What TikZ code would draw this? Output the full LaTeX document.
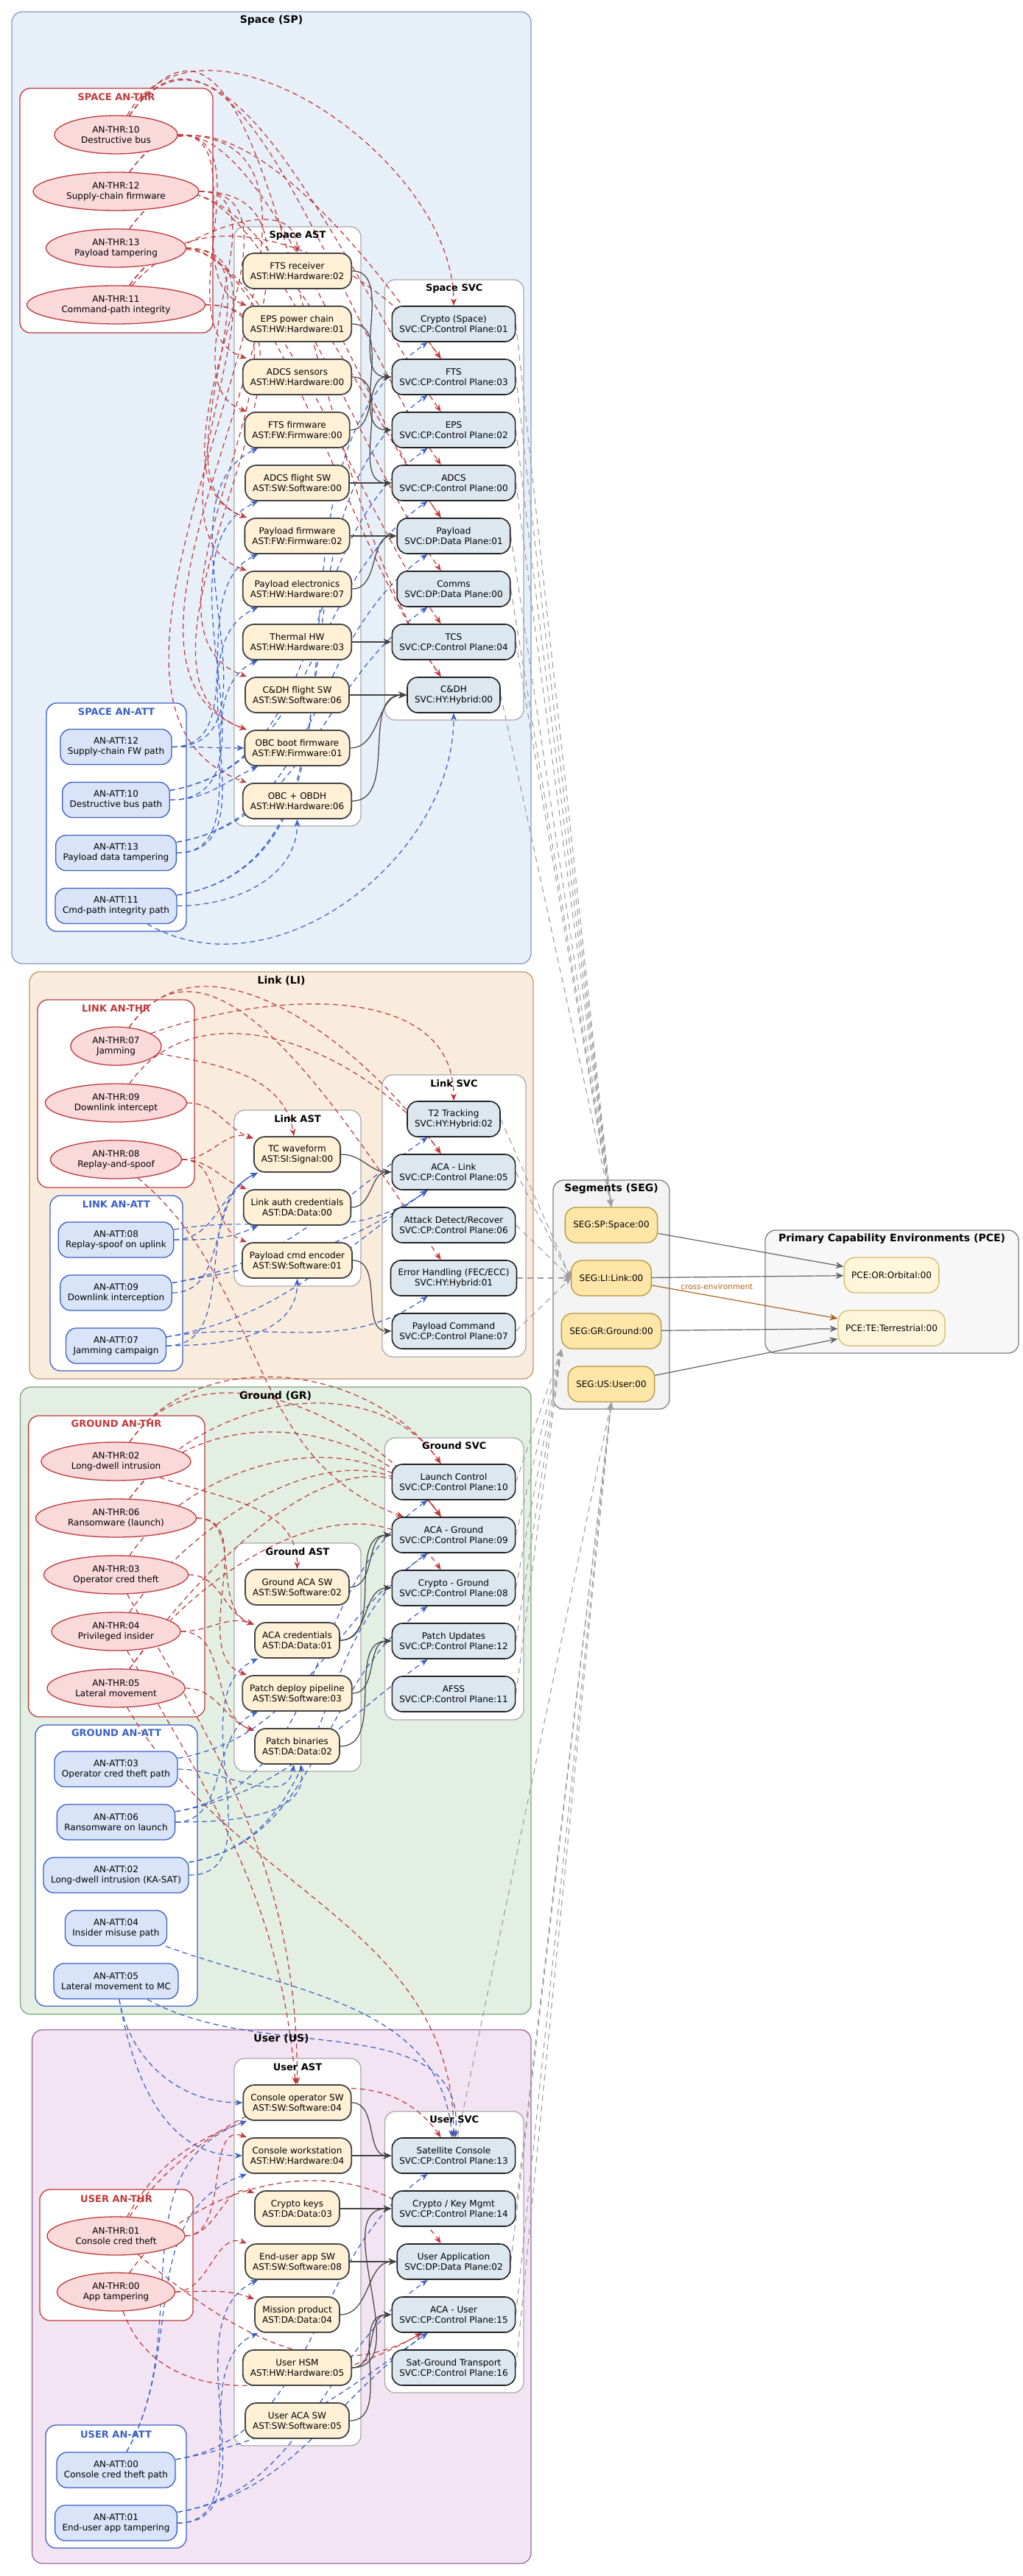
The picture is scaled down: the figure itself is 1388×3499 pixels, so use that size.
\documentclass[tikz,border=0pt]{standalone}
\usepackage{fontspec}
\setmainfont{DejaVu Sans}
\usetikzlibrary{shapes.geometric,arrows.meta}

\definecolor{spfill}{HTML}{E7EFF9}\definecolor{spline}{HTML}{7F9DCB}
\definecolor{lifill}{HTML}{FAECDD}\definecolor{liline}{HTML}{BF9A6B}
\definecolor{grfill}{HTML}{E3EFE2}\definecolor{grline}{HTML}{7EA77B}
\definecolor{usfill}{HTML}{F2E4F2}\definecolor{usline}{HTML}{9C6C9F}
\definecolor{thrline}{HTML}{C0393B}\definecolor{thrfill}{HTML}{F9D9DA}
\definecolor{attline}{HTML}{3A5FC8}\definecolor{attfill}{HTML}{D9E4F8}
\definecolor{astline}{HTML}{444444}\definecolor{astfill}{HTML}{FFF0D6}
\definecolor{svcline}{HTML}{222222}\definecolor{svcfill}{HTML}{DCE7F0}
\definecolor{segline}{HTML}{B8943E}\definecolor{segfill}{HTML}{FEE6A8}
\definecolor{pceline}{HTML}{D4BA6A}\definecolor{pcefill}{HTML}{FFF6DC}
\definecolor{paneline}{HTML}{AAAAAA}\definecolor{segzone}{HTML}{F3F3F3}
\definecolor{crossenv}{HTML}{B0651A}

\pgfdeclarelayer{zones}
\pgfdeclarelayer{wires}
\pgfsetlayers{zones,wires,main}

\begin{document}
\begin{tikzpicture}[x=0.5pt,y=0.5pt,node distance=36pt,font=\fontsize{6}{7}\selectfont,
    thr/.style={ellipse, draw=thrline, fill=thrfill, line width=0.65pt, inner sep=0pt, minimum height=26pt, align=center},
    att/.style={rectangle, rounded corners=7pt, draw=attline, fill=attfill, line width=0.65pt, minimum height=24pt, inner xsep=5pt, align=center},
    ast/.style={rectangle, rounded corners=7.5pt, draw=astline, fill=astfill, line width=0.9pt, minimum height=24pt, inner xsep=5pt, align=center},
    svc/.style={rectangle, rounded corners=7pt, draw=svcline, fill=svcfill, line width=0.8pt, minimum height=24pt, inner xsep=5pt, align=center},
    segbox/.style={rectangle, rounded corners=7.5pt, draw=segline, fill=segfill, line width=0.65pt, minimum height=24pt, inner xsep=5.5pt},
    pcebox/.style={rectangle, rounded corners=7.5pt, draw=pceline, fill=pcefill, line width=0.65pt, minimum height=24pt, inner xsep=5pt},
    zone/.style={rounded corners=7pt, line width=0.65pt},
    pane/.style={zone, fill=white},
    ztitle/.style={font=\fontsize{7}{8}\selectfont\bfseries},
    ptitle/.style={font=\fontsize{6.5}{7.5}\selectfont\bfseries},
    thrarc/.style={color=thrline, line width=0.6pt, dash pattern=on 3.5pt off 2.5pt, -{Stealth[length=5pt,width=4pt]}},
    attarc/.style={color=attline, line width=0.6pt, dash pattern=on 3.5pt off 2.5pt, -{Stealth[length=5pt,width=4pt]}},
    hosts/.style={color=astline, line width=0.6pt, -{Stealth[length=5.5pt,width=4.5pt]}},
    segarc/.style={color=black!38, line width=0.55pt, dash pattern=on 4pt off 3pt, -{Stealth[length=5pt,width=4pt]}},
    pcearc/.style={color=black!60, line width=0.6pt, -{Stealth[length=5.5pt,width=4.5pt]}}]

\useasboundingbox (0,0) rectangle (1388,-3499);

\begin{pgfonlayer}{zones}
  \fill[white] (0,0) rectangle (1388,-3499);
  % segments
  \draw[zone, draw=spline, fill=spfill] (16,-16) rectangle (721,-1309);
  \draw[zone, draw=liline, fill=lifill] (40,-1320) rectangle (724,-1873);
  \draw[zone, draw=grline, fill=grfill] (27.5,-1884) rectangle (721,-2736);
  \draw[zone, draw=usline, fill=usfill] (43.6,-2757) rectangle (721,-3482);
  \draw[zone, draw=black!50, fill=segzone] (751,-1603) rectangle (909,-1914);
  \draw[zone, draw=black!50, fill=black!3] (1039,-1671) rectangle (1383,-1838);
  % inner panes
  \draw[pane, draw=thrline] (27,-120) rectangle (289,-452);
  \draw[pane, draw=paneline] (318,-308) rectangle (490,-1122);
  \draw[pane, draw=paneline] (522.5,-380) rectangle (711,-978);
  \draw[pane, draw=attline] (63,-955) rectangle (253,-1265);
  \draw[pane, draw=thrline] (51,-1358) rectangle (264,-1613);
  \draw[pane, draw=attline] (68,-1624) rectangle (248,-1862);
  \draw[pane, draw=paneline] (318,-1508) rectangle (490,-1747);
  \draw[pane, draw=paneline] (519,-1460) rectangle (714,-1843);
  \draw[pane, draw=thrline] (38.6,-1923) rectangle (278,-2332);
  \draw[pane, draw=paneline] (318,-2096) rectangle (490,-2406);
  \draw[pane, draw=paneline] (522.5,-1953) rectangle (711,-2336);
  \draw[pane, draw=attline] (48,-2343) rectangle (268,-2725);
  \draw[pane, draw=paneline] (318,-2796) rectangle (490,-3322);
  \draw[pane, draw=paneline] (522.5,-2868) rectangle (711,-3250);
  \draw[pane, draw=thrline] (54,-2974) rectangle (262,-3152);
  \draw[pane, draw=attline] (62,-3294) rectangle (253,-3461);
\end{pgfonlayer}

% titles
\node[ztitle] (spT) at (368.5,-28) {Space (SP)};
\node[ztitle] (liT) at (382,-1332) {Link (LI)};
\node[ztitle] (grT) at (374,-1896) {Ground (GR)};
\node[ztitle] (usT) at (382,-2769) {User (US)};
\node[ztitle] (segT) at (830,-1615) {Segments (SEG)};
\node[ztitle] (pceT) at (1211,-1683) {Primary Capability Environments (PCE)};
\node[ptitle, text=thrline] (spThrT) at (158,-132) {SPACE AN-THR};
\node[ptitle] (spAstT) at (404,-320) {Space AST};
\node[ptitle] (spSvcT) at (616.75,-392) {Space SVC};
\node[ptitle, text=attline] (spAttT) at (158,-967) {SPACE AN-ATT};
\node[ptitle, text=thrline] (liThrT) at (157.5,-1370) {LINK AN-THR};
\node[ptitle, text=attline] (liAttT) at (158,-1636) {LINK AN-ATT};
\node[ptitle] (liAstT) at (404,-1520) {Link AST};
\node[ptitle] (liSvcT) at (616.5,-1472) {Link SVC};
\node[ptitle, text=thrline] (grThrT) at (158,-1934) {GROUND AN-THR};
\node[ptitle] (grAstT) at (404,-2108) {Ground AST};
\node[ptitle] (grSvcT) at (616.75,-1964) {Ground SVC};
\node[ptitle, text=attline] (grAttT) at (158,-2354) {GROUND AN-ATT};
\node[ptitle, text=thrline] (usThrT) at (158,-2987) {USER AN-THR};
\node[ptitle] (usAstT) at (404,-2808) {User AST};
\node[ptitle] (usSvcT) at (616.75,-2879) {User SVC};
\node[ptitle, text=attline] (usAttT) at (157.5,-3307) {USER AN-ATT};

% Space
\node[thr, minimum width=83.5pt] (thr10) at (157.5,-183) {AN-THR:10\\Destructive bus};
\node[thr, minimum width=112.5pt] (thr12) [node distance=38.5pt, below of=thr10] {AN-THR:12\\Supply-chain firmware};
\node[thr, minimum width=95pt] (thr13) [node distance=38.5pt, below of=thr12] {AN-THR:13\\Payload tampering};
\node[thr, minimum width=121pt] (thr11) [node distance=38.5pt, below of=thr13] {AN-THR:11\\Command-path integrity};

\node[att] (att12) at (157.5,-1014.5) {AN-ATT:12\\Supply-chain FW path};
\node[att] (att10) [below of=att12] {AN-ATT:10\\Destructive bus path};
\node[att] (att13) [below of=att10] {AN-ATT:13\\Payload data tampering};
\node[att] (att11) [below of=att13] {AN-ATT:11\\Cmd-path integrity path};

\node[ast] (astFTSrx) at (403.5,-368) {FTS receiver\\AST:HW:Hardware:02};
\node[ast] (astEPS) [below of=astFTSrx] {EPS power chain\\AST:HW:Hardware:01};
\node[ast] (astADCSs) [below of=astEPS] {ADCS sensors\\AST:HW:Hardware:00};
\node[ast] (astFTSfw) [below of=astADCSs] {FTS firmware\\AST:FW:Firmware:00};
\node[ast] (astADCSsw) [below of=astFTSfw] {ADCS flight SW\\AST:SW:Software:00};
\node[ast] (astPLfw) [below of=astADCSsw] {Payload firmware\\AST:FW:Firmware:02};
\node[ast] (astPLel) [below of=astPLfw] {Payload electronics\\AST:HW:Hardware:07};
\node[ast] (astTherm) [below of=astPLel] {Thermal HW\\AST:HW:Hardware:03};
\node[ast] (astCDHsw) [below of=astTherm] {C\&DH flight SW\\AST:SW:Software:06};
\node[ast] (astOBCfw) [below of=astCDHsw] {OBC boot firmware\\AST:FW:Firmware:01};
\node[ast] (astOBC) [below of=astOBCfw] {OBC + OBDH\\AST:HW:Hardware:06};

\node[svc] (svcCrypto) at (616,-440) {Crypto (Space)\\SVC:CP:Control Plane:01};
\node[svc] (svcFTS) [below of=svcCrypto] {FTS\\SVC:CP:Control Plane:03};
\node[svc] (svcEPS) [below of=svcFTS] {EPS\\SVC:CP:Control Plane:02};
\node[svc] (svcADCS) [below of=svcEPS] {ADCS\\SVC:CP:Control Plane:00};
\node[svc] (svcPL) [below of=svcADCS] {Payload\\SVC:DP:Data Plane:01};
\node[svc] (svcComms) [below of=svcPL] {Comms\\SVC:DP:Data Plane:00};
\node[svc] (svcTCS) [below of=svcComms] {TCS\\SVC:CP:Control Plane:04};
\node[svc] (svcCDH) [below of=svcTCS] {C\&DH\\SVC:HY:Hybrid:00};

% Link
\node[thr, minimum width=61.5pt] (thr07) at (157.5,-1421) {AN-THR:07\\Jamming};
\node[thr, minimum width=96pt] (thr09) [node distance=38.5pt, below of=thr07] {AN-THR:09\\Downlink intercept};
\node[thr, minimum width=89pt] (thr08) [node distance=38.5pt, below of=thr09] {AN-THR:08\\Replay-and-spoof};

\node[att] (att08) at (157.5,-1684) {AN-ATT:08\\Replay-spoof on uplink};
\node[att] (att09) [below of=att08] {AN-ATT:09\\Downlink interception};
\node[att] (att07) [below of=att09] {AN-ATT:07\\Jamming campaign};

\node[ast] (astTCW) at (403.5,-1568) {TC waveform\\AST:SI:Signal:00};
\node[ast] (astAuth) [below of=astTCW] {Link auth credentials\\AST:DA:Data:00};
\node[ast] (astPcmd) [below of=astAuth] {Payload cmd encoder\\AST:SW:Software:01};

\node[svc] (svcT2) at (616,-1520) {T2 Tracking\\SVC:HY:Hybrid:02};
\node[svc] (svcACAl) [below of=svcT2] {ACA - Link\\SVC:CP:Control Plane:05};
\node[svc] (svcADR) [below of=svcACAl] {Attack Detect/Recover\\SVC:CP:Control Plane:06};
\node[svc] (svcErr) [below of=svcADR] {Error Handling (FEC/ECC)\\SVC:HY:Hybrid:01};
\node[svc] (svcPcmd) [below of=svcErr] {Payload Command\\SVC:CP:Control Plane:07};

% Ground
\node[thr, minimum width=101.5pt] (thr02) at (157.5,-1985) {AN-THR:02\\Long-dwell intrusion};
\node[thr, minimum width=109pt] (thr06) [node distance=38.5pt, below of=thr02] {AN-THR:06\\Ransomware (launch)};
\node[thr, minimum width=98pt] (thr03) [node distance=38.5pt, below of=thr06] {AN-THR:03\\Operator cred theft};
\node[thr, minimum width=87.5pt] (thr04) [node distance=38.5pt, below of=thr03] {AN-THR:04\\Privileged insider};
\node[thr, minimum width=93.5pt] (thr05) [node distance=38.5pt, below of=thr04] {AN-THR:05\\Lateral movement};

\node[att] (att03) at (157.5,-2403) {AN-ATT:03\\Operator cred theft path};
\node[att] (att06) [below of=att03] {AN-ATT:06\\Ransomware on launch};
\node[att] (att02) [below of=att06] {AN-ATT:02\\Long-dwell intrusion (KA-SAT)};
\node[att] (att04) [below of=att02] {AN-ATT:04\\Insider misuse path};
\node[att] (att05) [below of=att04] {AN-ATT:05\\Lateral movement to MC};

\node[ast] (astGACA) at (403.5,-2156) {Ground ACA SW\\AST:SW:Software:02};
\node[ast] (astACAcr) [below of=astGACA] {ACA credentials\\AST:DA:Data:01};
\node[ast] (astPdep) [below of=astACAcr] {Patch deploy pipeline\\AST:SW:Software:03};
\node[ast] (astPbin) [below of=astPdep] {Patch binaries\\AST:DA:Data:02};

\node[svc] (svcLaunch) at (616,-2013) {Launch Control\\SVC:CP:Control Plane:10};
\node[svc] (svcACAg) [below of=svcLaunch] {ACA - Ground\\SVC:CP:Control Plane:09};
\node[svc] (svcCryG) [below of=svcACAg] {Crypto - Ground\\SVC:CP:Control Plane:08};
\node[svc] (svcPatch) [below of=svcCryG] {Patch Updates\\SVC:CP:Control Plane:12};
\node[svc] (svcAFSS) [below of=svcPatch] {AFSS\\SVC:CP:Control Plane:11};

% User
\node[thr, minimum width=93.5pt] (thr01) at (157.5,-3037) {AN-THR:01\\Console cred theft};
\node[thr, minimum width=80pt] (thr00) [node distance=38pt, below of=thr01] {AN-THR:00\\App tampering};

\node[att] (att00) at (157.5,-3355) {AN-ATT:00\\Console cred theft path};
\node[att] (att01) [below of=att00] {AN-ATT:01\\End-user app tampering};

\node[ast] (astConsOp) at (403.5,-2856) {Console operator SW\\AST:SW:Software:04};
\node[ast] (astConsWS) [below of=astConsOp] {Console workstation\\AST:HW:Hardware:04};
\node[ast] (astCryK) [below of=astConsWS] {Crypto keys\\AST:DA:Data:03};
\node[ast] (astEndApp) [below of=astCryK] {End-user app SW\\AST:SW:Software:08};
\node[ast] (astMission) [below of=astEndApp] {Mission product\\AST:DA:Data:04};
\node[ast] (astHSM) [below of=astMission] {User HSM\\AST:HW:Hardware:05};
\node[ast] (astUACA) [below of=astHSM] {User ACA SW\\AST:SW:Software:05};

\node[svc] (svcSatCon) at (616,-2928) {Satellite Console\\SVC:CP:Control Plane:13};
\node[svc] (svcCryKM) [below of=svcSatCon] {Crypto / Key Mgmt\\SVC:CP:Control Plane:14};
\node[svc] (svcUApp) [below of=svcCryKM] {User Application\\SVC:DP:Data Plane:02};
\node[svc] (svcACAu) [below of=svcUApp] {ACA - User\\SVC:CP:Control Plane:15};
\node[svc] (svcSGT) [below of=svcACAu] {Sat-Ground Transport\\SVC:CP:Control Plane:16};

% Segments and PCE
\node[segbox] (segSP) at (830,-1664) {SEG:SP:Space:00};
\node[segbox] (segLI) [below of=segSP] {SEG:LI:Link:00};
\node[segbox] (segGR) [below of=segLI] {SEG:GR:Ground:00};
\node[segbox] (segUS) [below of=segGR] {SEG:US:User:00};
\node[pcebox] (pceOR) at (1210.5,-1732) {PCE:OR:Orbital:00};
\node[pcebox] (pceTE) [below of=pceOR] {PCE:TE:Terrestrial:00};

\begin{pgfonlayer}{wires}
  % threats -> assets
  \foreach \src/\dst in {thr10/astEPS, thr10/astADCSs, thr10/astOBC, thr12/astFTSfw, thr12/astPLfw,
      thr12/astOBCfw, thr13/astPLfw, thr13/astPLel, thr11/astCDHsw, thr11/astOBCfw,
      thr09/astTCW, thr08/astTCW, thr08/astAuth, thr08/astPcmd,
      thr03/astACAcr, thr04/astACAcr, thr06/astACAcr, thr06/astPdep, thr04/astPbin, thr05/astPbin,
      thr01/astCryK, thr01/astConsWS, thr00/astEndApp, thr00/astMission}
    \path[thrarc] (\src) edge[out=0,in=160] (\dst);
  % threats -> services
  \foreach \src/\dst in {thr10/svcEPS, thr10/svcADCS, thr10/svcCDH, thr12/svcFTS, thr12/svcPL,
      thr13/svcPL, thr13/svcComms, thr11/svcFTS, thr11/svcTCS, thr11/svcCDH,
      thr07/svcACAl, thr07/svcErr, thr09/svcACAl,
      thr02/svcLaunch, thr02/svcACAg, thr06/svcACAg, thr03/svcACAg, thr04/svcACAg,
      thr05/svcACAg, thr05/svcCryG, thr06/svcLaunch,
      thr01/svcSatCon, thr00/svcUApp}
    \path[thrarc] (\src) edge[out=55,in=125] (\dst);
  % threats entering from above
  \path[thrarc] (thr10) edge[out=60,in=90] (svcCrypto)
                (thr11) edge[out=50,in=90] (astFTSrx)
                (thr07) edge[out=20,in=90] (svcT2)
                (thr07) edge[out=-10,in=100] (astTCW)
                (thr02) edge[out=-20,in=90] (astGACA)
                (thr08) edge[out=-40,in=160] (svcACAg)
                (thr03) edge[out=-60,in=90] (astConsOp)
                (thr04) edge[out=-60,in=95] (astConsOp)
                (thr05) edge[out=-60,in=90] (svcSatCon)
                (thr01) edge[out=60,in=200] (astConsOp)
                (thr00) edge[out=-70,in=210] (svcACAu)
                (thr01) edge[out=-40,in=210] (svcACAu);

  % attacks -> assets
  \foreach \src/\dst in {att12/astFTSfw, att12/astPLfw, att10/astADCSsw, att10/astOBCfw,
      att13/astPLel, att13/astTherm, att08/astTCW, att08/astAuth, att09/astTCW, att07/astTCW,
      att02/astACAcr, att06/astPdep, att01/astEndApp, att01/astMission}
    \path[attarc] (\src) edge[out=0,in=205] (\dst);
  % attacks -> services
  \foreach \src/\dst in {att11/svcCrypto, att11/svcFTS, att10/svcEPS, att10/svcADCS, att13/svcPL,
      att13/svcComms, att09/svcT2, att08/svcACAl, att09/svcACAl, att07/svcACAl, att07/svcErr,
      att06/svcLaunch, att02/svcACAg, att03/svcACAg, att02/svcCryG, att06/svcPatch,
      att00/svcSatCon, att00/svcACAu, att01/svcUApp, att01/svcACAu}
    \path[attarc] (\src) edge[out=10,in=215] (\dst);
  \path[attarc] (att12) edge[out=0,in=180] (astOBCfw)
                (att11) edge[out=0,in=-90] (astOBC)
                (att11) edge[out=-30,in=-90] (svcCDH)
                (att07) edge[out=0,in=-90] (astPcmd)
                (att03) edge[out=0,in=-100] (astPbin)
                (att06) edge[out=0,in=-80] (astPbin)
                (att04) edge[out=-20,in=95] (svcSatCon)
                (att05) edge[out=-30,in=85] (svcSatCon)
                (att05) edge[out=-80,in=180] (astConsOp)
                (att05) edge[out=-80,in=180] (astConsWS)
                (att00) edge[out=60,in=200] (astConsOp)
                (att00) edge[out=60,in=200] (astConsWS);

  % assets -> services
  \foreach \src/\dst in {astFTSrx/svcFTS, astEPS/svcEPS, astADCSs/svcADCS, astFTSfw/svcFTS,
      astADCSsw/svcADCS, astPLfw/svcPL, astPLel/svcPL, astTherm/svcTCS, astCDHsw/svcCDH,
      astOBCfw/svcCDH, astOBC/svcCDH, astTCW/svcACAl, astAuth/svcACAl, astPcmd/svcPcmd,
      astGACA/svcACAg, astACAcr/svcACAg, astACAcr/svcCryG, astPdep/svcPatch, astPbin/svcPatch,
      astConsOp/svcSatCon, astConsWS/svcSatCon, astCryK/svcCryKM, astEndApp/svcUApp,
      astMission/svcUApp, astHSM/svcCryKM, astHSM/svcACAu, astUACA/svcACAu}
    \path[hosts] (\src) edge[out=0,in=180] (\dst);

  % services -> segments
  \foreach \src in {svcCrypto, svcFTS, svcEPS, svcADCS, svcPL, svcComms, svcTCS, svcCDH}
    \path[segarc] (\src.east) edge (segSP.north);
  \foreach \src in {svcT2, svcACAl, svcADR, svcErr, svcPcmd}
    \path[segarc] (\src.east) edge (segLI.west);
  \foreach \src in {svcLaunch, svcACAg, svcCryG, svcPatch, svcAFSS}
    \path[segarc] (\src.east) edge (segGR.200);
  \path[segarc] (svcSatCon) edge (segUS.south);
  \foreach \src in {svcCryKM, svcUApp, svcACAu, svcSGT}
    \path[segarc] (\src.east) edge (segUS.south);

  % segments -> PCE
  \path[pcearc] (segSP) edge (pceOR)
                (segLI) edge (pceOR)
                (segGR) edge (pceTE)
                (segUS) edge (pceTE);
  \path[pcearc, color=crossenv] (segLI) edge node[pos=0.35, above=1.5pt, font=\fontsize{5.25}{6}\selectfont] {cross-environment} (pceTE);
\end{pgfonlayer}
\end{tikzpicture}
\end{document}
